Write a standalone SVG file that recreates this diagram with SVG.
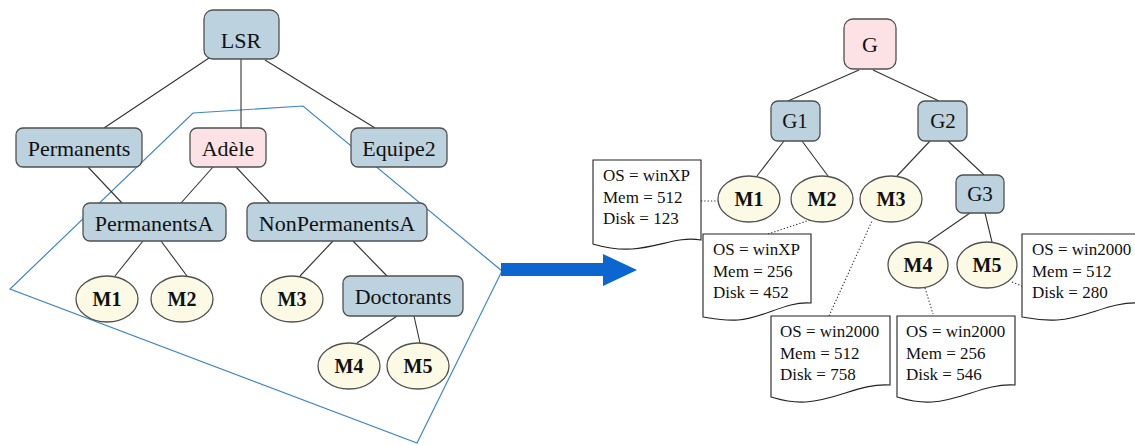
<svg xmlns="http://www.w3.org/2000/svg" width="1135" height="445" viewBox="0 0 1135 445" font-family="'Liberation Serif', 'Times New Roman', Times, serif">
<style>
.bl{fill:#bcd3df;stroke:#505050;stroke-width:1.3}
.pk{fill:#fde2e5;stroke:#505050;stroke-width:1.3}
.el{fill:#fcfae4;stroke:#505050;stroke-width:1.3}
.doc{fill:#fff;stroke:#222;stroke-width:1.1}
.e{stroke:#333;stroke-width:1.1;fill:none}
.d{stroke:#333;stroke-width:1.1;fill:none;stroke-dasharray:1.3 2}
text{fill:#111}
.t{font-size:22px;text-anchor:middle}
.m{font-size:20px;font-weight:bold;text-anchor:middle}
.r{font-size:21px;text-anchor:middle}
.s{font-size:17px}
</style>
<g id="region"><polygon points="193,113 303,106 502,271 417,443 10,289" fill="none" stroke="#3d86c8" stroke-width="1.2"/></g>
<g id="connectors">
<line class="e" x1="209" y1="58" x2="104" y2="128"/>
<line class="e" x1="241" y1="59" x2="241" y2="128"/>
<line class="e" x1="265" y1="60" x2="375" y2="128"/>
<line class="e" x1="88" y1="167" x2="122" y2="203"/>
<line class="e" x1="213" y1="167" x2="181" y2="203"/>
<line class="e" x1="236" y1="167" x2="270" y2="203"/>
<line class="e" x1="143" y1="241" x2="115" y2="276"/>
<line class="e" x1="161" y1="241" x2="187" y2="276"/>
<line class="e" x1="333" y1="241" x2="300" y2="276"/>
<line class="e" x1="353" y1="241" x2="387" y2="276"/>
<line class="e" x1="397" y1="316" x2="357" y2="343"/>
<line class="e" x1="414" y1="316" x2="420" y2="343"/>
<line class="e" x1="859" y1="70" x2="788" y2="101"/>
<line class="e" x1="873" y1="70" x2="939" y2="101"/>
<line class="e" x1="784" y1="141" x2="757" y2="176"/>
<line class="e" x1="802" y1="141" x2="828" y2="176"/>
<line class="e" x1="930" y1="141" x2="897" y2="176"/>
<line class="e" x1="948" y1="141" x2="984" y2="175"/>
<line class="e" x1="970" y1="213" x2="928" y2="242"/>
<line class="e" x1="985" y1="213" x2="992" y2="242"/>
<line class="d" x1="701" y1="201" x2="718" y2="201"/>
<line class="d" x1="768" y1="234" x2="810" y2="220"/>
<line class="d" x1="829" y1="316" x2="872" y2="221"/>
<line class="d" x1="925" y1="288" x2="933" y2="314"/>
<line class="d" x1="1012" y1="282" x2="1022" y2="286"/>
</g>
<g id="arrow"><polygon points="501,263 603,263 603,254 637,270 603,286 603,276 501,276" fill="#0b67cf"/></g>
<g id="LSR"><rect class="bl" x="204" y="10" width="75" height="49" rx="9"/><text class="t" x="241" y="48">LSR</text></g>
<g id="Permanents"><rect class="bl" x="16" y="128" width="126" height="39" rx="7"/><text class="t" x="79" y="156">Permanents</text></g>
<g id="Adele"><rect class="pk" x="190" y="128" width="76" height="39" rx="7"/><text class="t" x="228" y="156">Adèle</text></g>
<g id="Equipe2"><rect class="bl" x="351" y="128" width="96" height="39" rx="7"/><text class="t" x="399" y="156">Equipe2</text></g>
<g id="PermanentsA"><rect class="bl" x="83" y="203" width="143" height="38" rx="7"/><text class="t" x="154" y="231">PermanentsA</text></g>
<g id="NonPermanentsA"><rect class="bl" x="247" y="203" width="180" height="38" rx="7"/><text class="t" x="337" y="231">NonPermanentsA</text></g>
<g id="L_M1"><ellipse class="el" cx="107" cy="299" rx="31" ry="23"/><text class="m" x="107" y="306">M1</text></g>
<g id="L_M2"><ellipse class="el" cx="182" cy="299" rx="31" ry="23"/><text class="m" x="182" y="306">M2</text></g>
<g id="L_M3"><ellipse class="el" cx="292" cy="299" rx="31" ry="23"/><text class="m" x="292" y="306">M3</text></g>
<g id="Doctorants"><rect class="bl" x="343" y="276" width="120" height="40" rx="7"/><text class="t" x="403" y="304">Doctorants</text></g>
<g id="L_M4"><ellipse class="el" cx="349" cy="366" rx="31" ry="23"/><text class="m" x="349" y="373">M4</text></g>
<g id="L_M5"><ellipse class="el" cx="418" cy="366" rx="31" ry="23"/><text class="m" x="418" y="373">M5</text></g>
<g id="G"><rect class="pk" x="844" y="19" width="52" height="50" rx="9"/><text class="t" x="870" y="52">G</text></g>
<g id="G1"><rect class="bl" x="771" y="101" width="49" height="40" rx="7"/><text class="r" x="795" y="128">G1</text></g>
<g id="G2"><rect class="bl" x="918" y="101" width="49" height="40" rx="7"/><text class="r" x="943" y="128">G2</text></g>
<g id="G3"><rect class="bl" x="956" y="175" width="48" height="38" rx="7"/><text class="r" x="980" y="201">G3</text></g>
<g id="R_M1"><ellipse class="el" cx="749" cy="199" rx="31" ry="23"/><text class="m" x="749" y="206">M1</text></g>
<g id="R_M2"><ellipse class="el" cx="822" cy="199" rx="31" ry="23"/><text class="m" x="822" y="206">M2</text></g>
<g id="R_M3"><ellipse class="el" cx="891" cy="199" rx="31" ry="23"/><text class="m" x="891" y="206">M3</text></g>
<g id="R_M4"><ellipse class="el" cx="918" cy="265" rx="30" ry="23"/><text class="m" x="918" y="272">M4</text></g>
<g id="R_M5"><ellipse class="el" cx="987" cy="265" rx="30" ry="23"/><text class="m" x="987" y="272">M5</text></g>
<g id="info1"><path class="doc" d="M593,160 H701 V240 C678,236 660,247 632,249 C612,250 600,246 593,244 Z"/><text class="s" x="603" y="181">OS = winXP</text><text class="s" x="603" y="203">Mem = 512</text><text class="s" x="603" y="224">Disk = 123</text></g>
<g id="info2"><path class="doc" d="M703,234 H811 V303 C785,301 765,318 738,320 C722,321 710,318 703,317 Z"/><text class="s" x="713" y="255">OS = winXP</text><text class="s" x="713" y="277">Mem = 256</text><text class="s" x="713" y="298">Disk = 452</text></g>
<g id="info3"><path class="doc" d="M771,316 H890 V385 C860,383 838,400 806,402 C788,403 778,399 771,397 Z"/><text class="s" x="780" y="337">OS = win2000</text><text class="s" x="780" y="359">Mem = 512</text><text class="s" x="780" y="380">Disk = 758</text></g>
<g id="info4"><path class="doc" d="M897,316 H1015 V385 C985,383 963,400 932,402 C914,403 904,399 897,397 Z"/><text class="s" x="906" y="337">OS = win2000</text><text class="s" x="906" y="359">Mem = 256</text><text class="s" x="906" y="380">Disk = 546</text></g>
<g id="info5"><path class="doc" d="M1022,234 H1140 V303 C1110,301 1088,318 1057,320 C1039,321 1029,318 1022,317 Z"/><text class="s" x="1032" y="255">OS = win2000</text><text class="s" x="1032" y="277">Mem = 512</text><text class="s" x="1032" y="298">Disk = 280</text></g>
</svg>
